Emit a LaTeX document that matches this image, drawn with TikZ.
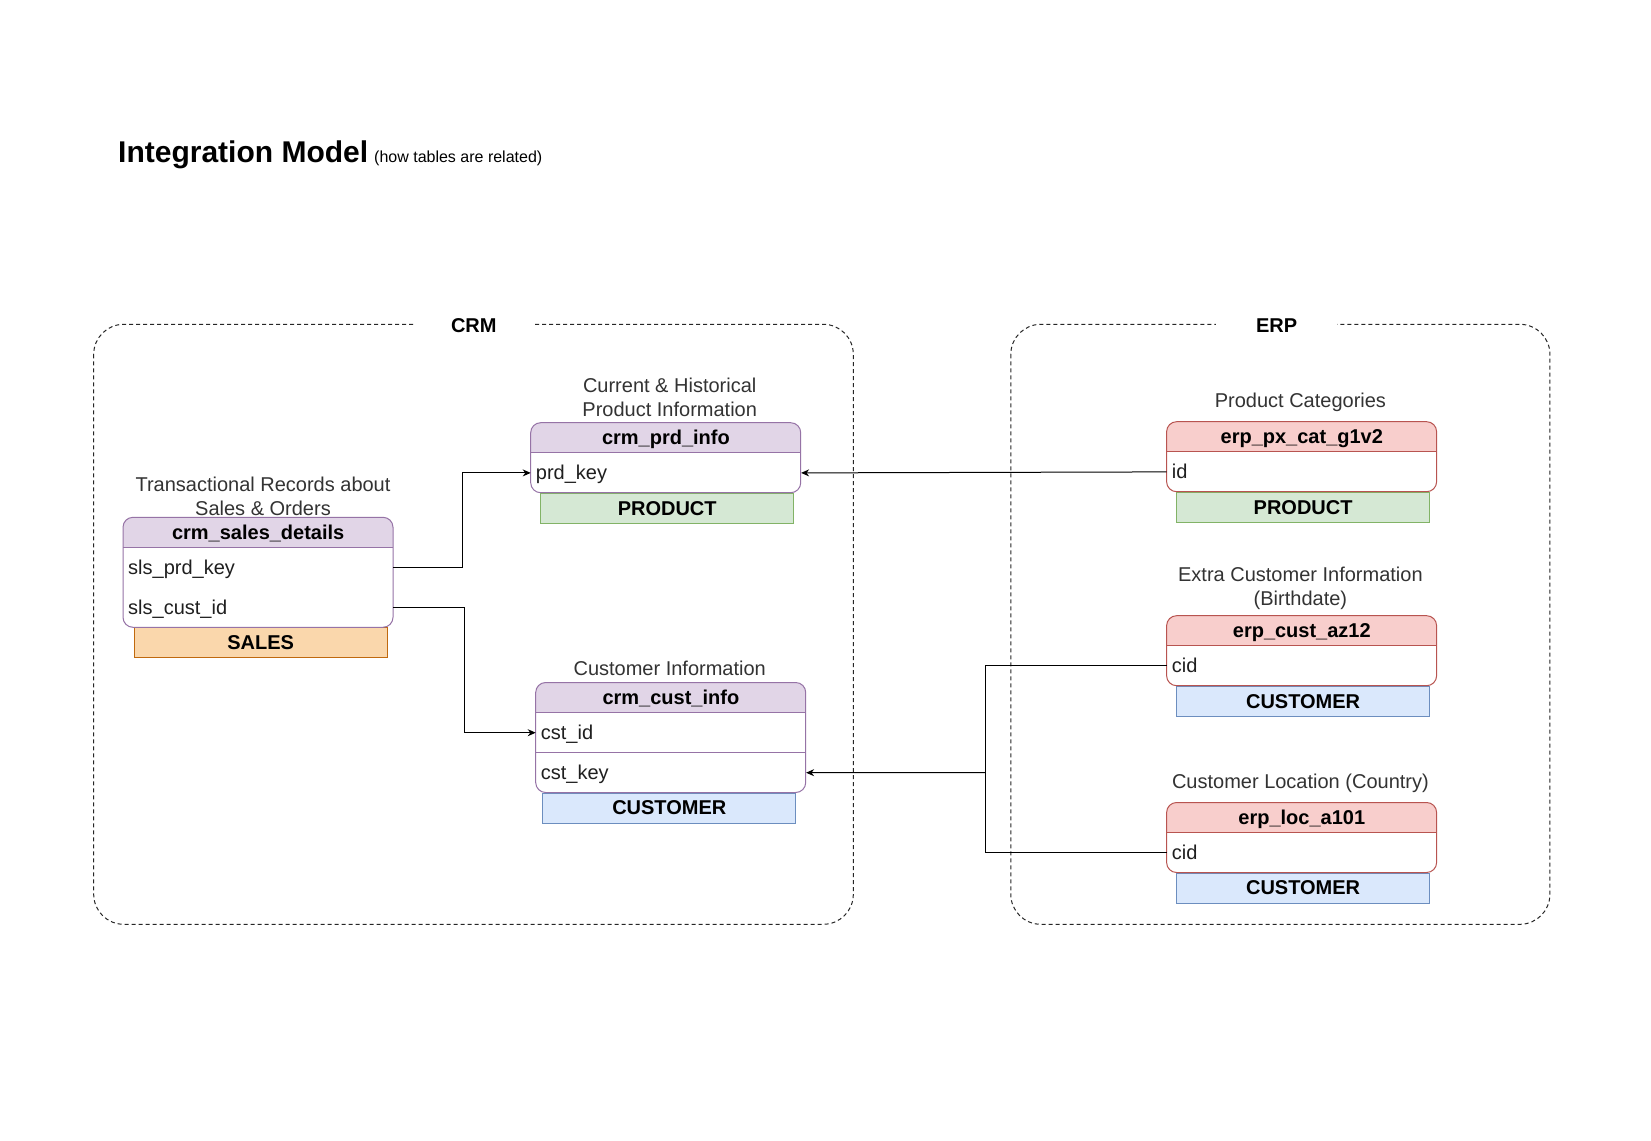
\documentclass[tikz,border=0pt]{standalone}
\usepackage{fontspec}
\setmainfont{Liberation Sans}
\usetikzlibrary{arrows.meta}
\definecolor{purF}{HTML}{E1D5E7}\definecolor{purS}{HTML}{9673A6}
\definecolor{redF}{HTML}{F8CECC}\definecolor{redS}{HTML}{B85450}
\definecolor{grnF}{HTML}{D5E8D4}\definecolor{grnS}{HTML}{82B366}
\definecolor{bluF}{HTML}{DAE8FC}\definecolor{bluS}{HTML}{6C8EBF}
\definecolor{orgF}{HTML}{FAD7AC}\definecolor{orgS}{HTML}{C0690E}
\definecolor{capC}{HTML}{333333}
\tikzset{
 fixline/.style={text height=14pt, text depth=0.2pt},
 hdrtxt/.style={font=\fontsize{20}{24}\selectfont\bfseries, fixline, inner sep=0pt, minimum width=270pt, minimum height=30pt, anchor=north west},
 rowtxt/.style={font=\fontsize{20}{24}\selectfont, fixline, text=black!88, inner xsep=5pt, inner ysep=0pt, text width=260pt, minimum height=40pt, anchor=north west, align=left},
 captxt/.style={font=\fontsize{20}{24}\selectfont, text=capC, align=center},
 tagbox/.style={font=\fontsize{20}{24}\selectfont\bfseries, fixline, line width=1pt, minimum width=253pt, minimum height=30pt, inner sep=0pt, anchor=north west},
 grp/.style={draw=black!85, line width=1pt, dash pattern=on 4pt off 3pt, rounded corners=30pt},
 grplabel/.style={font=\fontsize{20}{24}\selectfont\bfseries, fixline, fill=white, inner sep=0pt, minimum height=22pt},
 link/.style={line width=1pt, draw=black},
 arr/.style={link, -{Stealth[length=8pt,width=7pt]}}
}
\newcommand\dbtab[7]{%
 \begin{scope}
 \clip[rounded corners=10pt] (#2,#3) rectangle ++(270,{30+40*#4});
 \fill[white] (#2,#3) rectangle ++(270,{30+40*#4});
 \fill[#5] (#2,#3) rectangle ++(270,30);
 \end{scope}
 \draw[#6, line width=1pt, rounded corners=10pt] (#2,#3) rectangle ++(270,{30+40*#4});
 \draw[#6, line width=1pt] (#2,{#3+30}) -- ++(270,0);
 \node[hdrtxt] (#1) at (#2,#3) {#7};
}
\begin{document}
\begin{tikzpicture}[x=1pt,y=-1pt]
\useasboundingbox[fill=white] (0,0) rectangle (1651,1140);

% title
\node[anchor=base west, inner sep=0pt, font=\fontsize{30}{36}\selectfont\bfseries] (title) at (118,162) {Integration Model};
\node[anchor=base west, inner sep=0pt, font=\fontsize{16}{19}\selectfont] (subtitle) at (374,162) {(how tables are related)};

% groups
\draw[grp] (93.7,324.3) rectangle (853.3,924.3);
\node[grplabel, minimum width=120pt] (crm) at (473.8,325.8) {CRM};
\draw[grp] (1010.8,324.3) rectangle (1549.9,924.3);
\node[grplabel, minimum width=121pt] (erp) at (1276.7,325.8) {ERP};

% crm_sales_details
\node[captxt] (capsales) at (263,496) {Transactional Records about\\Sales \& Orders};
\node[tagbox, fill=orgF, draw=orgS] (tagsales) at (133.7,627.3) {SALES};
\dbtab{sales}{123}{517.3}{2}{purF}{purS}{crm\_sales\_details}
\node[rowtxt] (sprd) at (123,547.3) {sls\_prd\_key};
\node[rowtxt] (scust) at (123,587.3) {sls\_cust\_id};

% crm_prd_info
\node[captxt] (capprd) at (669.7,397) {Current \& Historical\\Product Information};
\node[tagbox, fill=grnF, draw=grnS] (tagprd) at (540.2,492.7) {PRODUCT};
\dbtab{prd}{530.7}{422.7}{1}{purF}{purS}{crm\_prd\_info}
\node[rowtxt] (prdkey) at (530.7,452.7) {prd\_key};

% crm_cust_info
\node[captxt] (capcust) at (669.7,668.7) {Customer Information};
\node[tagbox, fill=bluF, draw=bluS] (tagcust) at (542.3,792.5) {CUSTOMER};
\dbtab{cust}{535.7}{682.5}{2}{purF}{purS}{crm\_cust\_info}
\draw[purS, line width=1pt] (535.7,752.5) -- ++(270,0);
\node[rowtxt] (cstid) at (535.7,712.5) {cst\_id};
\node[rowtxt] (cstkey) at (535.7,752.5) {cst\_key};

% erp_px_cat_g1v2
\node[captxt] (cappx) at (1300.4,402) {Product Categories};
\node[tagbox, fill=grnF, draw=grnS] (tagpx) at (1176.1,491.7) {PRODUCT};
\dbtab{px}{1166.6}{421.7}{1}{redF}{redS}{erp\_px\_cat\_g1v2}
\node[rowtxt] (pxid) at (1166.6,451.7) {id};

% erp_cust_az12
\node[captxt] (capaz) at (1300.4,588.3) {Extra Customer Information\\(Birthdate)};
\node[tagbox, fill=bluF, draw=bluS] (tagaz) at (1176.1,685.7) {CUSTOMER};
\dbtab{az}{1166.6}{615.7}{1}{redF}{redS}{erp\_cust\_az12}
\node[rowtxt] (azcid) at (1166.6,645.7) {cid};

% erp_loc_a101
\node[captxt] (caploc) at (1300.4,783) {Customer Location (Country)};
\node[tagbox, fill=bluF, draw=bluS] (tagloc) at (1176.1,872.5) {CUSTOMER};
\dbtab{loc}{1166.6}{802.5}{1}{redF}{redS}{erp\_loc\_a101}
\node[rowtxt] (loccid) at (1166.6,832.5) {cid};

% connectors
\draw[arr] (sprd.east) -- ++(69.2,0) |- (prdkey.west);
\draw[arr] (scust.east) -- ++(71.5,0) |- (cstid.west);
\draw[arr] (pxid.west) -- (prdkey.east);
\coordinate (jn) at (985.5,772.5);
\draw[link] (azcid.west) -| (jn);
\draw[link] (loccid.west) -| (jn);
\draw[arr] (jn) -- (cstkey.east);
\end{tikzpicture}
\end{document}
